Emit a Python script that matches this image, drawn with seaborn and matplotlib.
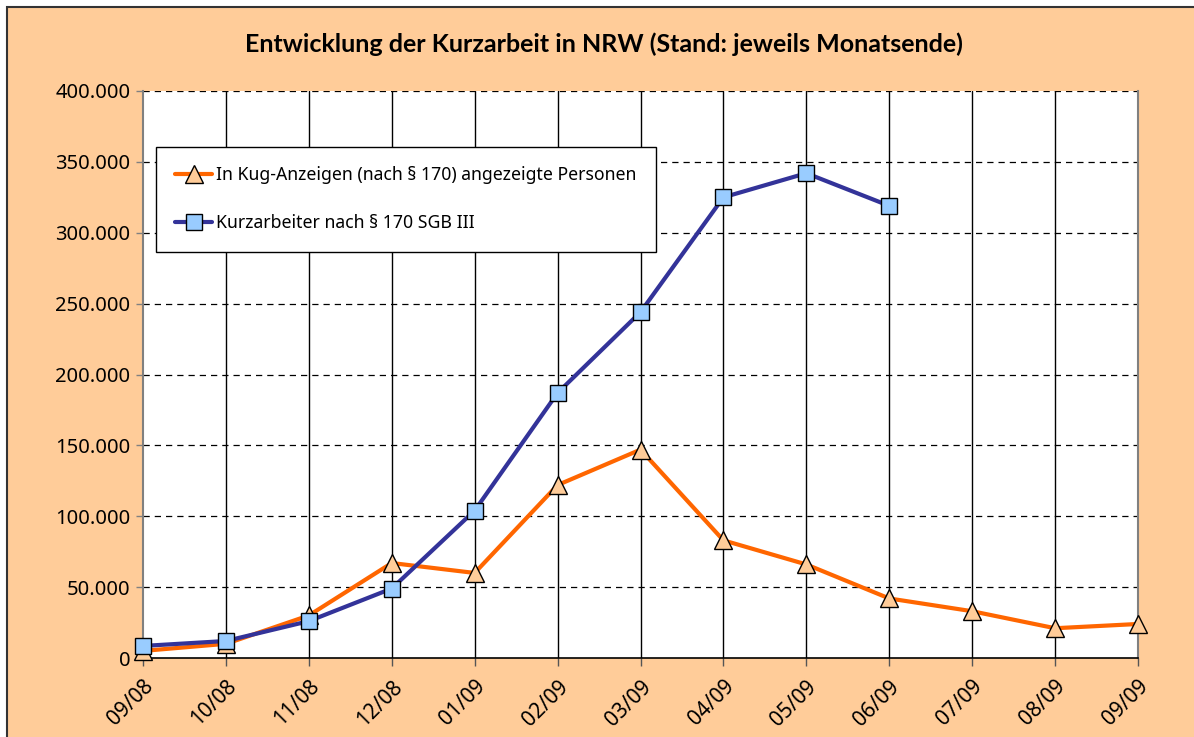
import numpy as np
import pandas as pd
import matplotlib
matplotlib.use('Agg')
import matplotlib.pyplot as plt
from matplotlib.patches import Rectangle
from matplotlib.ticker import FuncFormatter
import seaborn as sns

# Data
months = ['09/08', '10/08', '11/08', '12/08', '01/09', '02/09', '03/09',
          '04/09', '05/09', '06/09', '07/09', '08/09', '09/09']
kug_anzeigen = [5000, 10000, 30000, 67000, 60000, 122000, 147000,
                83000, 66000, 42000, 33000, 21000, 24000]
kurzarbeiter = [8500, 12000, 26000, 49000, 104000, 187000, 244000,
                325000, 342000, 319000]

label_kug = 'In Kug-Anzeigen (nach § 170) angezeigte Personen'
label_ka = 'Kurzarbeiter nach § 170 SGB III'

sns.set_theme(style='white')
plt.rcParams['font.family'] = ['Noto Sans', 'DejaVu Sans']
plt.rcParams['text.color'] = 'black'
plt.rcParams['xtick.color'] = 'black'
plt.rcParams['ytick.color'] = 'black'

peach = '#FFCC99'
orange = '#FF6600'
navy = '#333399'

df_kug = pd.DataFrame({'idx': range(len(kug_anzeigen)), 'wert': kug_anzeigen})
df_ka = pd.DataFrame({'idx': range(len(kurzarbeiter)), 'wert': kurzarbeiter})

fig = plt.figure(figsize=(11.94, 7.37), dpi=100, facecolor='white')
# peach chart area with dark frame (cut off at right/bottom)
fig.patches.append(Rectangle((7 / 1194, -0.05), 1.1, 1 - 7 / 737 + 0.05,
                             transform=fig.transFigure, facecolor=peach,
                             edgecolor='#333333', linewidth=1.5, zorder=-10))

ax = fig.add_axes([143 / 1194, 1 - 658 / 737, (1138 - 143) / 1194, (658 - 91) / 737])
ax.set_facecolor('white')

sns.lineplot(data=df_kug, x='idx', y='wert', ax=ax, color=orange, linewidth=3,
             marker='^', markersize=13, markerfacecolor=peach,
             markeredgecolor='black', markeredgewidth=1.0, label=label_kug,
             zorder=4, clip_on=False)
sns.lineplot(data=df_ka, x='idx', y='wert', ax=ax, color=navy, linewidth=3,
             marker='s', markersize=11, markerfacecolor='#99CCFF',
             markeredgecolor='black', markeredgewidth=1.0, label=label_ka,
             zorder=5, clip_on=False)

ax.set_xlim(0, len(months) - 1)
ax.set_ylim(0, 400000)
ax.set_xticks(range(len(months)))
ax.set_xticklabels(months, rotation=45, ha='right', rotation_mode='anchor',
                   fontsize=15)
ax.set_yticks(np.arange(0, 400001, 50000))
ax.yaxis.set_major_formatter(FuncFormatter(
    lambda v, p: '0' if v == 0 else f'{int(v):,}'.replace(',', '.')))
ax.tick_params(axis='y', labelsize=14.5, length=5, width=1, color='#808080',
               direction='out', left=True, pad=4)
ax.tick_params(axis='x', length=6, width=1, color='#555555', direction='out',
               bottom=True, pad=7)
ax.set_xlabel('')
ax.set_ylabel('')

# grid: solid verticals, dashed horizontals
for i in range(1, len(months) - 1):
    ax.axvline(i, color='black', linewidth=1, zorder=1)
for v in np.arange(50000, 400001, 50000):
    ax.axhline(v, color='black', linewidth=0.9, linestyle=(0, (5, 4)), zorder=1)

for side in ['left', 'right']:
    ax.spines[side].set_color('#808080')
    ax.spines[side].set_linewidth(1.5)
ax.spines['top'].set_visible(False)
ax.spines['bottom'].set_color('black')
ax.spines['bottom'].set_linewidth(1.2)

leg = ax.legend(loc='upper left', bbox_to_anchor=(13 / 995, 1 - 56 / 567),
                frameon=True, fancybox=False, fontsize=12.7, borderpad=1.1,
                labelspacing=1.7, handlelength=2.1, handletextpad=0.2,
                borderaxespad=0)
leg.get_frame().set_edgecolor('black')
leg.get_frame().set_linewidth(1.0)
leg.get_frame().set_facecolor('white')
leg.get_frame().set_alpha(1)
leg.set_zorder(6)

fig.text(604 / 1194, 1 - 44 / 737,
         'Entwicklung der Kurzarbeit in NRW (Stand: jeweils Monatsende)',
         ha='center', va='center', fontsize=18, fontweight='bold',
         family=['Lato', 'DejaVu Sans'])

fig.savefig('out.png', dpi=100, facecolor='white')
